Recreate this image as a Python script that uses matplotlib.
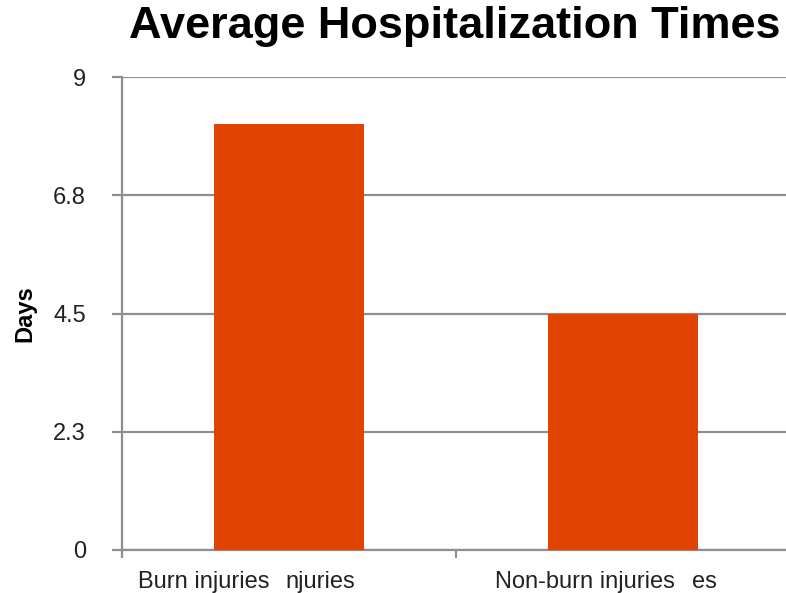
import matplotlib
matplotlib.use("Agg")
import matplotlib.pyplot as plt

plt.rcParams['font.family'] = ['Liberation Sans', 'DejaVu Sans']

categories = ["Burn injuries", "Non-burn injuries"]
label_tails = ["njuries", "es"]
days = [8.1, 4.5]
y_ticks = [0, 2.25, 4.5, 6.75, 9]
y_tick_labels = ["0", "2.3", "4.5", "6.8", "9"]

W, H = 786, 593
fig = plt.figure(figsize=(W / 100, H / 100), dpi=100)
ax_left, ax_right, ax_top, ax_bottom = 122, 790, 77, 550
ax = fig.add_axes([ax_left / W, 1 - ax_bottom / H,
                   (ax_right - ax_left) / W, (ax_bottom - ax_top) / H])
ax.set_xlim(-0.5, 1.5)
ax.set_ylim(0, 9)

grey = "#8f8f8f"
bar_color = "#E04400"

ax.bar(range(len(categories)), days, width=0.45, color=bar_color, zorder=3)

ax.set_yticks(y_ticks)
ax.set_yticklabels(y_tick_labels, fontsize=17, color="#222222")
ax.yaxis.grid(True, color=grey, linewidth=1.6, zorder=1)
ax.set_axisbelow(True)
ax.tick_params(axis='y', length=7, width=1.6, color=grey, pad=19)

ax.set_xticks([-0.5, 0.5])
ax.set_xticklabels([])
ax.tick_params(axis='x', length=6, width=1.6, color=grey)

for side in ["top", "right"]:
    ax.spines[side].set_visible(False)
for side in ["left", "bottom"]:
    ax.spines[side].set_color(grey)
    ax.spines[side].set_linewidth(1.6)

ax.set_ylabel("Days", fontsize=17, fontweight='bold', labelpad=12)

# category labels with their trailing fragments
label_y = -0.6
name_x = [-0.452, 0.617]
tail_x = [-0.012, 1.207]
for cat, tail, nx, tx in zip(categories, label_tails, name_x, tail_x):
    ax.text(nx, label_y, cat, ha='left', va='center', fontsize=17, color="#222222",
            clip_on=False)
    ax.text(tx, label_y, tail, ha='left', va='center', fontsize=17, color="#222222",
            clip_on=False)

fig.text(0.578, 0.955, "Average Hospitalization Times", ha='center', va='center',
         fontsize=32.5, fontweight='bold', color="black")

fig.savefig("out.png", dpi=100)
